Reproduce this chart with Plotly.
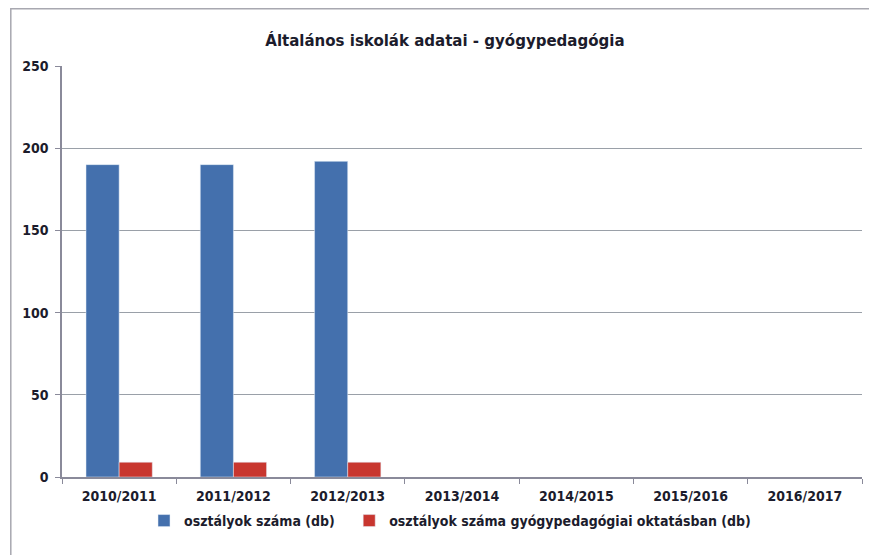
import plotly.graph_objects as go

categories = ["2010/2011", "2011/2012", "2012/2013", "2013/2014", "2014/2015", "2015/2016", "2016/2017"]
osztalyok = [190, 190, 192, None, None, None, None]
gyogy = [9, 9, 9, None, None, None, None]
series_names = ["osztályok száma (db)", "osztályok száma gyógypedagógiai oktatásban (db)"]
y_ticks = [0, 50, 100, 150, 200, 250]

FONT = "DejaVu Sans Condensed"
TXT = "#1c1c2c"

fig = go.Figure()
fig.add_trace(go.Bar(x=categories, y=osztalyok, name="<b>" + series_names[0] + "</b>",
                     marker_color="#4470ad", legend="legend"))
fig.add_trace(go.Bar(x=categories, y=gyogy, name="<b>" + series_names[1] + "</b>",
                     marker_color="#c8362f", legend="legend2"))

leg_common = dict(orientation="h", xanchor="left", y=-0.107, yanchor="middle",
                  font=dict(family=FONT, size=14, color=TXT), itemwidth=30, bgcolor="rgba(0,0,0,0)")

fig.update_layout(
    width=869, height=555,
    margin=dict(l=62, r=7, t=66, b=78),
    paper_bgcolor="white", plot_bgcolor="white",
    barmode="group", bargap=0.42, bargroupgap=0,
    title=dict(text="<b>Általános iskolák adatai - gyógypedagógia</b>", x=0.512, xanchor="center", y=0.928, yanchor="middle",
               font=dict(family=FONT, size=16.7, color=TXT)),
    font=dict(family=FONT, size=13, color=TXT),
    legend=dict(x=0.1025, **leg_common),
    legend2=dict(x=0.359, **leg_common),
    showlegend=True,
    shapes=[dict(type="rect", xref="paper", yref="paper", x0=-0.064, x1=1.1, y0=-0.3, y1=1.139,
                 line=dict(color="#a8a8b0", width=1.5))],
)
fig.update_xaxes(type="category", showline=True, linecolor="#8a8a9a", linewidth=1.5,
                 ticks="outside", tickson="boundaries", ticklen=5, tickcolor="#8a8a9a",
                 tickfont=dict(family=FONT, size=14, color=TXT),
                 tickvals=categories, ticktext=["<b>" + c + "</b>" for c in categories],
                 showgrid=False, ticklabelstandoff=5)
fig.update_yaxes(range=[0, 250], tickvals=y_ticks, ticktext=["<b>%d</b>" % v for v in y_ticks],
                 showline=True, linecolor="#8a8a9a", linewidth=1.5,
                 ticks="outside", ticklen=5, tickcolor="#8a8a9a",
                 gridcolor="#9aa0a8", gridwidth=1, zeroline=False,
                 tickfont=dict(family=FONT, size=14, color=TXT), ticklabelstandoff=4)

fig.write_html("out.html", config={"displayModeBar": False},
               post_script="document.body.style.margin='0';document.body.style.overflow='hidden';")
